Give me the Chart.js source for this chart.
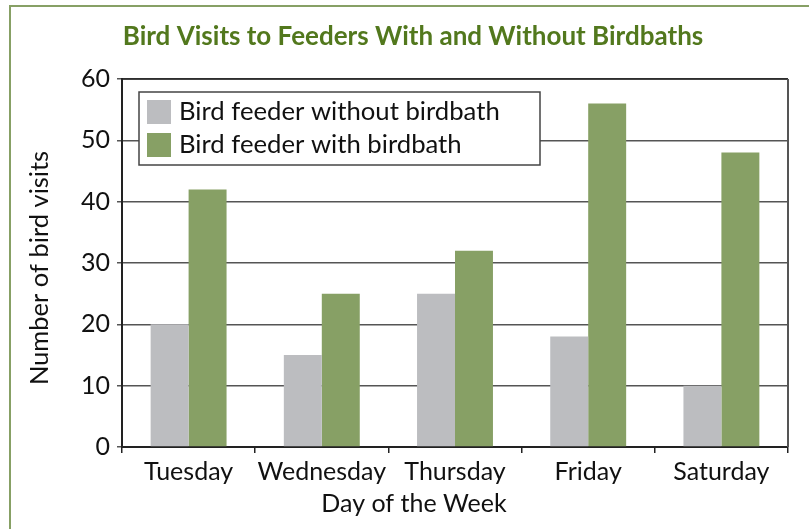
<!DOCTYPE html>
<html>
<head>
<meta charset="utf-8">
<script src="https://cdn.jsdelivr.net/npm/chart.js@4/dist/chart.umd.min.js"></script>
<style>
  html, body { margin: 0; padding: 0; background: #fff; }
  #wrap { position: relative; width: 809px; height: 529px; overflow: hidden; }
  #frame { position: absolute; left: 9px; top: 5px; width: 900px; height: 600px; border-left: 2px solid #87a065; border-top: 2px solid #87a065; box-sizing: border-box; }
  canvas { position: absolute; left: 0; top: 0; }
</style>
</head>
<body>
<div id="wrap">
  <div id="frame"></div>
  <canvas id="c" width="809" height="529"></canvas>
</div>
<script>
const chartTitle = "Bird Visits to Feeders With and Without Birdbaths";
const categories = ["Tuesday", "Wednesday", "Thursday", "Friday", "Saturday"];
const seriesNames = ["Bird feeder without birdbath", "Bird feeder with birdbath"];
const withoutBirdbath = [20, 15, 25, 18, 10];
const withBirdbath = [42, 25, 32, 56, 48];
const yTicks = [0, 10, 20, 30, 40, 50, 60];
const xTitle = "Day of the Week";
const yTitle = "Number of bird visits";

const FONT = "Lato, 'Noto Sans', sans-serif";
const FS = 25;

const overlay = {
  id: 'overlay',
  afterDraw(chart) {
    const ctx = chart.ctx;
    const a = chart.chartArea;
    ctx.save();
    // title
    ctx.fillStyle = '#52781d';
    ctx.font = "bold 26px " + FONT;
    ctx.textAlign = 'center';
    ctx.textBaseline = 'middle';
    ctx.fillText(chartTitle, 413, 37);
    // axis titles
    ctx.fillStyle = '#111';
    ctx.font = FS + "px " + FONT;
    ctx.fillText(xTitle, 414, 504);
    ctx.save();
    ctx.translate(40, 268);
    ctx.rotate(-Math.PI / 2);
    ctx.font = "25.5px " + FONT;
    ctx.fillText(yTitle, 0, 0);
    ctx.restore();
    // plot frame (top & right)
    ctx.strokeStyle = '#222';
    ctx.lineWidth = 1.5;
    ctx.beginPath();
    ctx.moveTo(a.left, a.top); ctx.lineTo(a.right, a.top);
    ctx.stroke();
    ctx.strokeStyle = '#555';
    ctx.lineWidth = 2;
    ctx.beginPath();
    ctx.moveTo(a.right, a.top); ctx.lineTo(a.right, a.bottom);
    ctx.stroke();
    // legend box
    const bx = 139, by = 92, bw = 401, bh = 73;
    ctx.fillStyle = '#fff';
    ctx.fillRect(bx, by, bw, bh);
    ctx.strokeStyle = '#444';
    ctx.lineWidth = 1.5;
    ctx.strokeRect(bx, by, bw, bh);
    ctx.font = "25.7px " + FONT;
    ctx.textAlign = 'left';
    ctx.textBaseline = 'middle';
    chart.data.datasets.forEach((ds, i) => {
      const y = 100 + i * 33;
      ctx.fillStyle = ds.backgroundColor;
      ctx.fillRect(147, y, 24, 24);
      ctx.fillStyle = '#111';
      ctx.fillText(ds.label, 179, y + 12);
    });
    ctx.restore();
  }
};

new Chart(document.getElementById('c'), {
  type: 'bar',
  data: {
    labels: categories,
    datasets: [
      { label: seriesNames[0], data: withoutBirdbath, backgroundColor: '#bcbdc0' },
      { label: seriesNames[1], data: withBirdbath, backgroundColor: '#87a065' }
    ]
  },
  options: {
    responsive: false,
    animation: false,
    devicePixelRatio: 1,
    layout: { padding: { left: 0, right: 21, top: 79, bottom: 0 } },
    plugins: { legend: { display: false }, title: { display: false }, tooltip: { enabled: false } },
    datasets: { bar: { categoryPercentage: 0.57, barPercentage: 1.0 } },
    scales: {
      x: {
        afterFit(s) { s.height = 82; },
        grid: { display: true, drawOnChartArea: false, drawTicks: true, tickLength: 6, color: '#222', offset: true, lineWidth: 1.5 },
        border: { display: true, color: '#222', width: 2 },
        ticks: { color: '#111', font: { family: FONT, size: FS }, padding: 4, maxRotation: 0 },
        title: { display: false }
      },
      y: {
        min: 0, max: 60,
        afterFit(s) { s.width = 122; },
        afterBuildTicks(s) { s.ticks = yTicks.map(v => ({ value: v })); },
        grid: { color: '#555', lineWidth: 1.5, drawTicks: true, tickLength: 5 },
        border: { display: true, color: '#222', width: 2 },
        ticks: { color: '#111', font: { family: FONT, size: FS }, padding: 7 },
        title: { display: false }
      }
    }
  },
  plugins: [overlay]
});
</script>
</body>
</html>
